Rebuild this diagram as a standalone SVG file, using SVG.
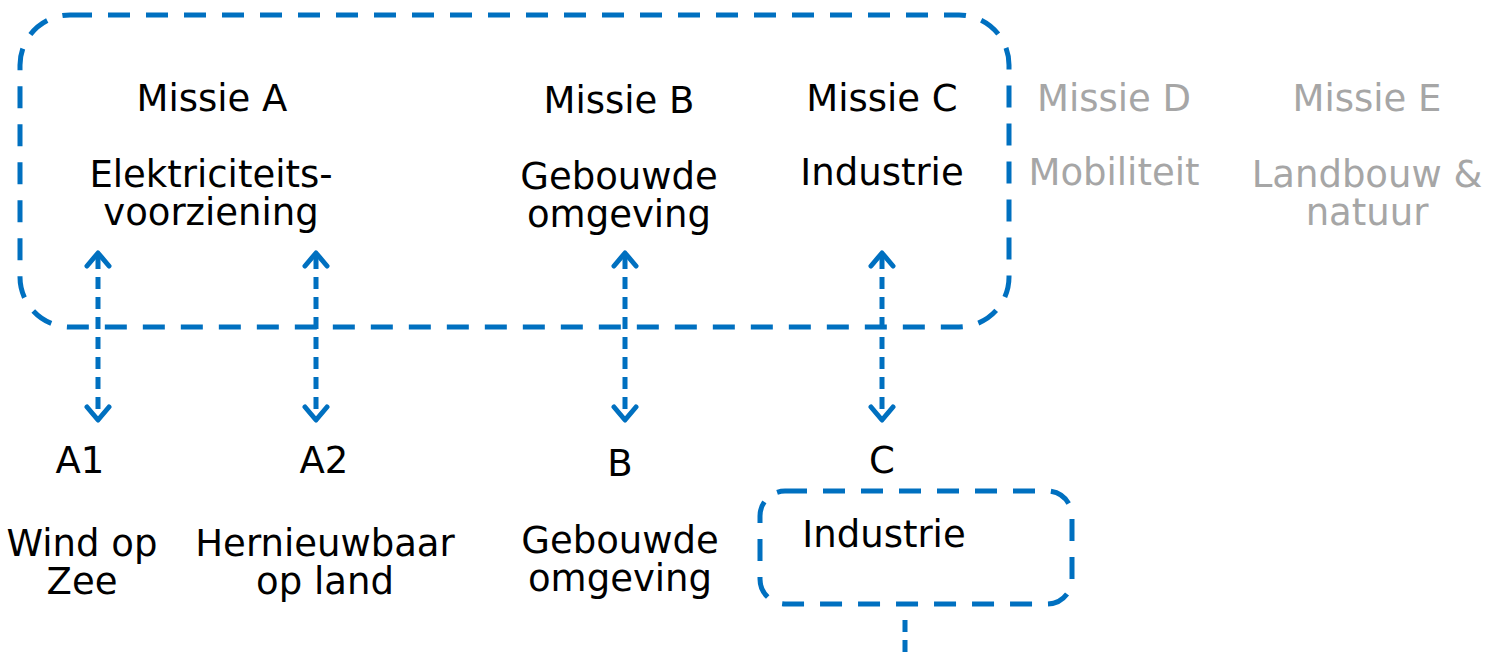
<svg xmlns="http://www.w3.org/2000/svg" width="1499" height="657" viewBox="0 0 1499 657">
<defs>
<style>
text{font-family:"DejaVu Sans","Liberation Sans",sans-serif;font-size:37px;text-anchor:middle;fill:#000}
.g{fill:#A6A6A6}
.box{fill:none;stroke:#0070C0;stroke-width:5;stroke-dasharray:22 16}
.arr{fill:none;stroke:#0070C0;stroke-width:5;stroke-dasharray:12 8}
.head{fill:none;stroke:#0070C0;stroke-width:5;stroke-linecap:round;stroke-linejoin:round}
</style>
</defs>
<rect width="1499" height="657" fill="#fff"/>
<g id="mission-group">
<rect class="box" x="20" y="15" width="989" height="312" rx="50" ry="50"/>
</g>
<g id="missie-a"><text x="212" y="111">Missie A</text><text x="211" y="187">Elektriciteits-</text><text x="211" y="225">voorziening</text></g>
<g id="missie-b"><text x="619" y="113">Missie B</text><text x="619" y="189">Gebouwde</text><text x="619" y="227">omgeving</text></g>
<g id="missie-c"><text x="882" y="111">Missie C</text><text x="882" y="185">Industrie</text></g>
<g id="missie-d"><text class="g" x="1114" y="111">Missie D</text><text class="g" x="1114" y="185">Mobiliteit</text></g>
<g id="missie-e"><text class="g" x="1367" y="111">Missie E</text><text class="g" x="1367" y="187">Landbouw &amp;</text><text class="g" x="1367" y="225">natuur</text></g>
<g id="a1"><text x="80" y="473">A1</text><text x="82" y="556">Wind op</text><text x="82" y="594">Zee</text></g>
<g id="a2"><text x="324" y="473">A2</text><text x="325" y="556">Hernieuwbaar</text><text x="325" y="594">op land</text></g>
<g id="b"><text x="620" y="476">B</text><text x="620" y="553">Gebouwde</text><text x="620" y="591">omgeving</text></g>
<g id="c"><text x="882" y="473">C</text></g>
<g id="c-industrie"><rect class="box" x="760" y="491" width="312" height="113" rx="25" ry="25"/><text x="884" y="547">Industrie</text></g>
<g id="connectors">
<line class="arr" x1="98" y1="257" x2="98" y2="416"/>
<line class="arr" x1="316" y1="257" x2="316" y2="416"/>
<line class="arr" x1="625" y1="257" x2="625" y2="416"/>
<line class="arr" x1="882" y1="257" x2="882" y2="416"/>
<path class="head" d="M87,266 L98,253 L109,266 M87,407 L98,420 L109,407"/>
<path class="head" d="M305,266 L316,253 L327,266 M305,407 L316,420 L327,407"/>
<path class="head" d="M614,266 L625,253 L636,266 M614,407 L625,420 L636,407"/>
<path class="head" d="M871,266 L882,253 L893,266 M871,407 L882,420 L893,407"/>
<line class="arr" x1="905" y1="620" x2="905" y2="657" stroke-dasharray="22 16"/>
</g>
</svg>
